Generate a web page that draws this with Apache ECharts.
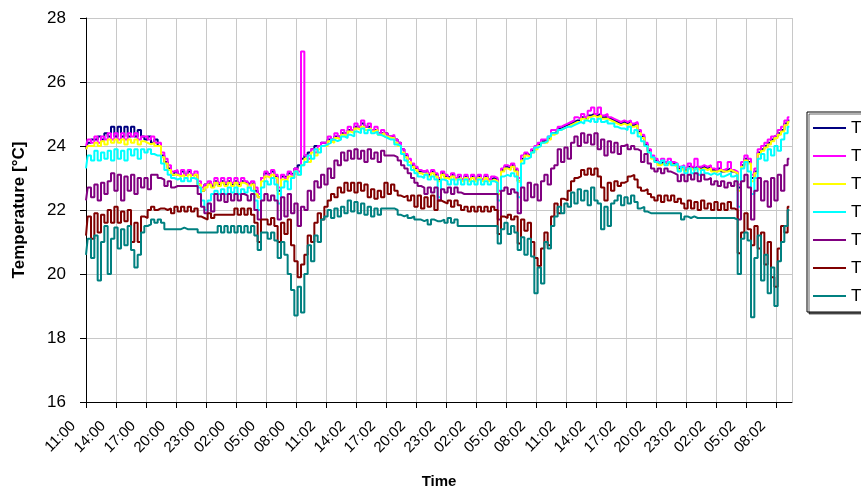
<!DOCTYPE html>
<html>
<head>
<meta charset="utf-8">
<script src="https://cdn.jsdelivr.net/npm/echarts@6/dist/echarts.min.js"></script>
<style>
html,body{margin:0;padding:0;background:#fff;overflow:hidden;}
#c{width:861px;height:486px;}
</style>
</head>
<body>
<div id="c"></div>
<script>
// hours since 11:00 on day 1, one sample every 20 minutes
var stepHours = 1 / 3;
var tickLabels = ['11:00','14:00','17:00','20:00','23:00','02:00','05:00','08:00',
  '11:02','14:02','17:02','20:02','23:02','02:02','05:02','08:02',
  '11:02','14:02','17:02','20:02','23:02','02:02','05:02','08:02'];
var seriesNames = ['T1','T2','T3','T4','T5','T6','T7'];

var T1 = [
23.9,24.1,24.2,24.2,24.3,24.2,24.4,24.3,24.6,
24.3,24.6,24.3,24.6,24.3,24.6,24.3,24.5,24.3,
24.2,24.3,24.1,24.2,24.0,23.7,23.5,23.3,23.1,
23.2,23.1,23.2,23.1,23.2,23.1,23.1,22.8,22.6,
22.8,22.85,22.75,22.9,22.8,22.9,22.8,22.9,22.8,
22.9,22.8,22.9,22.85,22.8,22.85,22.6,22.4,23.0,
23.15,23.1,23.2,23.05,22.6,23.05,23.0,23.15,23.1,
23.3,23.4,23.6,23.7,23.8,23.9,24.0,24.0,24.1,
24.1,24.2,24.2,24.3,24.3,24.4,24.4,24.5,24.5,
24.6,24.6,24.7,24.6,24.6,24.5,24.5,24.4,24.4,
24.4,24.3,24.3,24.2,24.1,23.9,23.7,23.5,23.4,
23.3,23.2,23.2,23.2,23.1,23.2,23.1,22.95,23.15,
23.05,23.0,23.1,23.0,23.05,22.95,23.05,22.95,23.05,
22.95,23.05,22.95,23.05,22.95,23.0,22.95,22.5,23.25,
23.35,23.3,23.4,23.25,22.9,23.6,23.75,23.7,23.85,
23.95,24.05,24.15,24.2,24.25,24.4,24.45,24.55,24.6,
24.65,24.7,24.75,24.8,24.8,24.9,24.85,24.95,25.0,
24.95,25.0,24.9,24.9,24.85,24.8,24.75,24.7,24.75,
24.7,24.75,24.65,24.7,24.45,24.3,24.05,23.85,23.65,
23.55,23.45,23.5,23.45,23.5,23.45,23.4,23.3,23.35,
23.25,23.35,23.3,23.35,23.3,23.35,23.3,23.35,23.25,
23.2,23.3,23.2,23.25,23.3,23.2,23.15,22.7,23.4,
23.6,23.5,23.0,23.2,23.8,23.9,24.0,24.1,24.2,
24.3,24.4,24.5,24.7,24.8];

var T2 = [
24.0,24.2,24.1,24.3,24.1,24.3,24.2,24.4,24.2,
24.4,24.2,24.4,24.2,24.4,24.3,24.4,24.2,24.3,
24.3,24.2,24.3,24.1,24.1,23.8,23.6,23.4,23.2,
23.25,23.1,23.25,23.1,23.25,23.1,23.2,22.9,22.7,
22.8,22.9,22.8,23.0,22.85,23.0,22.85,23.0,22.85,
23.0,22.85,23.0,22.9,22.8,22.9,22.7,22.5,23.0,
23.2,23.1,23.25,23.1,22.7,23.1,23.0,23.2,23.1,
23.3,23.2,26.95,23.7,23.6,23.9,23.8,24.0,24.1,
24.1,24.3,24.2,24.4,24.3,24.5,24.4,24.6,24.5,
24.7,24.6,24.8,24.6,24.7,24.5,24.6,24.4,24.5,
24.4,24.3,24.35,24.2,24.1,23.9,23.75,23.6,23.45,
23.35,23.25,23.2,23.25,23.15,23.25,23.15,23.0,23.2,
23.1,23.0,23.15,23.0,23.1,22.95,23.1,22.95,23.1,
22.95,23.1,22.95,23.1,22.95,23.05,23.0,22.6,23.3,
23.4,23.35,23.45,23.3,23.0,23.7,23.8,23.7,23.9,
24.0,24.1,24.2,24.2,24.3,24.5,24.5,24.6,24.65,
24.7,24.75,24.8,24.9,24.85,25.0,24.9,25.1,25.2,
25.0,25.2,24.95,25.0,24.9,24.85,24.8,24.75,24.8,
24.75,24.8,24.7,24.75,24.5,24.35,24.1,23.9,23.7,
23.6,23.5,23.6,23.5,23.6,23.5,23.45,23.35,23.4,
23.3,23.45,23.35,23.6,23.35,23.4,23.35,23.4,23.3,
23.25,23.5,23.25,23.3,23.5,23.25,23.2,22.8,23.5,
23.7,23.6,23.1,23.3,23.9,24.0,24.1,24.2,24.3,
24.35,24.5,24.6,24.8,24.9];

var T3 = [
23.9,24.0,24.0,24.1,24.0,24.15,24.05,24.2,24.1,
24.2,24.1,24.2,24.05,24.2,24.1,24.2,24.05,24.15,
24.1,24.05,24.1,24.0,24.0,23.65,23.45,23.25,23.1,
23.1,23.05,23.1,23.0,23.1,23.0,23.1,22.8,22.6,
22.7,22.8,22.7,22.85,22.75,22.85,22.75,22.85,22.75,
22.85,22.75,22.85,22.8,22.7,22.8,22.5,22.4,22.9,
23.05,23.0,23.1,23.0,22.5,22.95,22.9,23.05,23.0,
23.2,23.1,23.4,23.6,23.5,23.8,23.7,23.9,24.0,
24.0,24.15,24.1,24.25,24.2,24.35,24.3,24.45,24.4,
24.55,24.5,24.6,24.5,24.55,24.45,24.5,24.35,24.4,
24.3,24.25,24.25,24.1,24.0,23.8,23.65,23.5,23.35,
23.25,23.15,23.1,23.15,23.05,23.15,23.05,22.9,23.1,
23.0,22.95,23.05,22.95,23.0,22.9,23.0,22.9,23.0,
22.9,23.0,22.9,23.0,22.9,22.95,22.9,22.5,23.2,
23.3,23.25,23.35,23.2,22.9,23.55,23.7,23.65,23.8,
23.9,24.0,24.1,24.1,24.2,24.35,24.4,24.5,24.55,
24.6,24.65,24.7,24.75,24.75,24.85,24.8,24.9,24.95,
24.9,24.95,24.85,24.85,24.8,24.75,24.7,24.65,24.7,
24.65,24.7,24.6,24.65,24.4,24.25,24.0,23.8,23.6,
23.5,23.4,23.45,23.4,23.45,23.4,23.35,23.25,23.3,
23.2,23.3,23.25,23.3,23.25,23.3,23.25,23.3,23.2,
23.2,23.25,23.2,23.2,23.25,23.2,23.15,22.6,23.35,
23.55,23.45,22.9,23.15,23.75,23.85,23.95,24.05,24.15,
24.25,24.35,24.45,24.65,24.75];

var T4 = [
23.3,23.7,23.55,23.85,23.55,23.8,23.6,23.85,23.55,
23.9,23.6,23.85,23.55,23.9,23.7,23.9,23.6,23.9,
23.8,23.9,23.75,23.7,23.7,23.45,23.25,23.1,23.0,
22.95,23.0,22.9,23.0,22.9,23.0,22.95,22.7,22.3,
22.0,22.3,22.5,22.6,22.5,22.65,22.5,22.7,22.55,
22.7,22.5,22.65,22.55,22.7,22.6,22.3,22.0,22.7,
22.9,22.8,23.0,22.8,22.2,22.7,22.9,22.65,23.0,
23.2,23.1,23.4,23.5,23.7,23.6,23.9,23.8,24.0,
24.05,24.1,24.2,24.15,24.2,24.3,24.25,24.35,24.3,
24.45,24.4,24.55,24.4,24.5,24.4,24.45,24.35,24.3,
24.25,24.2,24.2,24.05,24.0,23.75,23.55,23.4,23.25,
23.15,23.05,23.0,23.1,22.95,23.05,22.95,22.4,22.95,
22.9,22.8,22.95,22.8,22.95,22.8,22.95,22.8,22.9,
22.8,22.95,22.8,22.9,22.8,22.9,22.85,22.3,23.05,
23.1,23.05,23.15,23.05,22.4,23.45,23.6,23.65,23.8,
23.95,24.0,24.1,24.15,24.3,24.4,24.4,24.5,24.55,
24.6,24.6,24.65,24.7,24.75,24.7,24.8,24.75,24.85,
24.75,24.85,24.75,24.8,24.7,24.7,24.6,24.55,24.55,
24.5,24.6,24.4,24.5,24.3,24.15,24.0,23.8,23.65,
23.5,23.45,23.55,23.4,23.5,23.4,23.45,23.2,23.35,
23.15,23.3,23.15,23.3,23.1,23.25,23.15,23.1,23.15,
23.1,23.15,23.05,23.1,23.15,23.05,23.1,22.1,23.3,
23.5,23.2,22.5,23.0,23.6,23.75,23.55,23.9,23.7,
24.0,23.85,24.2,24.4,24.6];

var T5 = [
22.3,22.7,22.4,22.8,22.3,22.85,22.5,22.9,23.15,
22.6,23.1,22.3,23.05,22.6,23.1,22.5,23.0,22.7,
23.0,22.65,23.1,23.1,23.0,22.95,22.75,22.9,22.7,
22.75,22.75,22.75,22.75,22.75,22.75,22.75,22.5,22.1,
21.9,22.2,21.95,22.5,22.3,22.5,22.25,22.5,22.3,
22.5,22.3,22.5,22.45,22.3,22.5,22.0,21.7,22.3,
22.5,22.3,22.45,22.3,21.7,22.4,21.8,22.5,21.9,
22.2,21.5,22.1,22.0,22.6,22.3,22.9,22.7,23.1,
22.8,23.3,23.0,23.55,23.4,23.8,23.55,23.85,23.6,
23.9,23.6,23.85,23.5,23.9,23.6,23.8,23.5,23.85,
23.7,23.7,23.7,23.65,23.55,23.4,23.3,23.15,23.0,
22.85,22.75,22.7,22.5,22.7,22.55,22.7,22.3,22.65,
22.55,22.7,22.5,22.7,22.55,22.5,22.5,22.5,22.5,
22.5,22.5,22.5,22.5,22.5,22.5,22.5,21.7,22.6,
22.7,22.5,22.65,22.55,21.9,22.7,22.3,22.85,22.4,
22.8,22.3,22.9,23.1,22.8,23.3,23.4,23.9,23.5,
23.95,23.6,24.1,24.3,24.0,24.4,24.1,24.35,24.05,
24.4,23.9,24.2,23.7,24.15,23.8,24.1,23.75,24.0,
24.05,23.9,24.0,23.9,23.85,23.5,23.75,23.45,23.3,
23.2,23.3,23.15,23.3,23.2,23.15,23.1,22.9,23.1,
22.9,23.1,22.95,23.15,22.9,23.1,22.95,23.0,22.8,
22.9,22.75,22.9,22.7,22.85,22.75,22.9,21.7,22.9,
23.1,22.7,21.7,22.6,23.0,22.3,22.9,22.1,23.0,
22.3,23.1,22.6,23.4,23.6];

var T6 = [
21.2,21.8,21.1,21.9,21.3,21.85,21.6,22.0,21.6,
22.1,21.6,21.95,21.65,22.0,21.0,21.6,21.0,21.8,
21.75,22.0,22.1,22.0,22.05,22.05,22.0,22.05,21.9,
22.1,21.95,22.1,21.95,22.1,21.95,22.05,21.8,21.75,
21.7,21.9,21.75,21.85,21.85,21.85,21.85,21.85,21.85,
22.05,21.85,22.05,21.85,22.05,21.85,21.6,21.0,21.7,
21.7,21.55,21.75,21.5,21.0,21.6,21.25,21.7,20.9,
20.4,19.9,20.3,20.6,21.2,21.0,21.6,21.9,21.7,
22.1,22.3,22.5,22.4,22.7,22.55,22.85,22.6,22.85,
22.55,22.85,22.6,22.8,22.4,22.65,22.35,22.6,22.4,
22.85,22.5,22.8,22.6,22.45,22.4,22.45,22.3,22.45,
22.1,22.45,22.05,22.4,22.1,22.45,22.0,22.3,22.25,
22.2,22.3,22.1,22.3,22.15,22.0,22.1,21.95,22.1,
21.95,22.1,21.95,22.1,21.95,22.1,22.0,21.25,21.8,
21.75,21.85,21.7,21.8,20.95,21.7,21.35,21.6,21.0,
20.5,20.25,20.8,21.3,20.9,21.8,22.2,21.9,22.35,
22.3,22.6,22.9,23.0,23.05,23.25,23.1,23.3,23.1,
23.3,23.05,22.7,22.3,22.85,22.6,22.9,22.75,22.85,
22.9,23.05,23.1,22.95,22.7,22.6,22.65,22.5,22.4,
22.3,22.45,22.25,22.45,22.3,22.45,22.25,22.35,22.2,
22.05,22.3,22.05,22.25,22.0,22.3,22.05,22.2,22.0,
22.25,22.0,22.2,22.0,22.25,22.05,22.0,20.65,21.3,
21.9,21.4,20.9,21.5,20.8,21.3,20.3,21.0,19.9,
19.6,20.8,21.5,21.3,22.1];

var T7 = [
20.6,21.1,20.5,21.2,19.8,21.0,21.5,20.0,21.1,
21.45,20.8,21.4,20.9,21.5,20.75,20.2,20.6,21.3,
21.5,21.55,21.7,21.6,21.7,21.6,21.4,21.4,21.4,
21.4,21.4,21.45,21.4,21.4,21.4,21.4,21.3,21.3,
21.3,21.3,21.3,21.3,21.5,21.3,21.5,21.3,21.5,
21.3,21.5,21.3,21.5,21.3,21.5,21.2,20.75,21.3,
21.3,21.1,21.3,21.05,20.5,21.0,20.6,20.0,19.5,
18.7,19.6,18.8,20.0,20.9,20.4,21.2,21.0,21.7,
21.8,22.0,21.75,22.05,21.8,22.1,21.9,22.3,21.95,
22.25,21.9,22.2,21.85,22.1,21.8,22.05,21.85,22.05,
22.05,22.05,22.05,22.0,21.85,21.8,21.85,21.75,21.8,
21.7,21.7,21.65,21.7,21.55,21.7,21.65,21.65,21.7,
21.6,21.75,21.6,21.7,21.5,21.5,21.5,21.5,21.5,
21.5,21.5,21.5,21.5,21.5,21.5,21.5,20.95,21.4,
21.6,21.25,21.5,21.3,20.75,21.15,20.6,21.1,20.55,
19.4,20.2,19.7,21.0,20.8,21.5,21.8,22.1,21.9,
22.2,22.1,22.55,22.2,22.65,22.3,22.6,22.15,22.7,
22.3,22.2,21.4,22.1,21.5,22.2,22.3,22.45,22.15,
22.4,22.2,22.45,22.25,22.05,22.1,21.95,21.9,21.9,
21.9,21.9,21.9,21.9,21.9,21.9,21.9,21.9,21.7,
21.8,21.75,21.8,21.75,21.75,21.75,21.75,21.75,21.75,
21.75,21.75,21.75,21.75,21.75,21.75,21.7,20.0,21.1,
21.3,21.05,18.65,20.5,21.2,19.8,20.6,19.4,20.2,
19.0,20.4,21.0,21.5,22.0];

var seriesValues = [T1, T2, T3, T4, T5, T6, T7];
var seriesColors = ['#000080','#FF00FF','#FFFF00','#00FFFF','#800080','#800000','#008080'];

var FONT = '"Liberation Sans", Arial, sans-serif';

function toPairs(arr) {
  return arr.map(function (v, i) { return [i * stepHours, v]; });
}

var chart = echarts.init(document.getElementById('c'), null, {renderer: 'canvas'});
chart.setOption({
  animation: false,
  backgroundColor: '#fff',
  grid: {left: 86, top: 18, right: 69, bottom: 84, containLabel: false, outerBoundsMode: 'none'},
  legend: {
    orient: 'vertical',
    left: 807, top: 112,
    padding: [6, 8, 6, 6],
    itemGap: 8,
    itemWidth: 33, itemHeight: 2,
    icon: 'rect',
    borderColor: '#000', borderWidth: 1,
    backgroundColor: '#fff',
    shadowColor: 'rgba(0,0,0,0.6)', shadowOffsetX: 2, shadowOffsetY: 2, shadowBlur: 0,
    textStyle: {fontFamily: FONT, fontSize: 17, color: '#000', lineHeight: 20},
    data: seriesNames
  },
  xAxis: {
    type: 'value', min: 0, max: 70.6, interval: 3,
    name: 'Time', nameLocation: 'middle', nameGap: 72,
    nameTextStyle: {fontFamily: FONT, fontSize: 15, fontWeight: 'bold', color: '#000'},
    axisLine: {show: true, lineStyle: {color: '#000', width: 1}},
    axisTick: {show: true, inside: false, length: 6, lineStyle: {color: '#000'}},
    splitLine: {show: true, lineStyle: {color: '#c8c8c8', width: 1}},
    axisLabel: {
      rotate: 45, margin: 9, padding: [0, 18, 0, 0],
      fontFamily: FONT, fontSize: 15, color: '#000',
      showMaxLabel: false, hideOverlap: false,
      formatter: function (v) {
        var k = Math.round(v / 3);
        if (Math.abs(v - k * 3) > 1e-6) return '';
        return tickLabels[k] || '';
      }
    }
  },
  yAxis: {
    type: 'value', min: 16, max: 28, interval: 2,
    name: 'Temperature [°C]', nameLocation: 'middle', nameGap: 58,
    nameTextStyle: {fontFamily: FONT, fontSize: 17, fontWeight: 'bold', color: '#000'},
    axisLine: {show: true, lineStyle: {color: '#000', width: 1}},
    axisTick: {show: true, inside: false, length: 6, lineStyle: {color: '#000'}},
    splitLine: {show: true, lineStyle: {color: '#c8c8c8', width: 1}},
    axisLabel: {margin: 20, fontFamily: FONT, fontSize: 17, color: '#000'}
  },
  series: seriesNames.map(function (n, idx) {
    return {
      name: n, type: 'line', data: toPairs(seriesValues[idx]),
      showSymbol: false, symbol: 'none', step: 'middle',
      lineStyle: {color: seriesColors[idx], width: 2},
      itemStyle: {color: seriesColors[idx]},
      emphasis: {disabled: true}, z: 2 + idx
    };
  })
});
</script>
</body>
</html>
